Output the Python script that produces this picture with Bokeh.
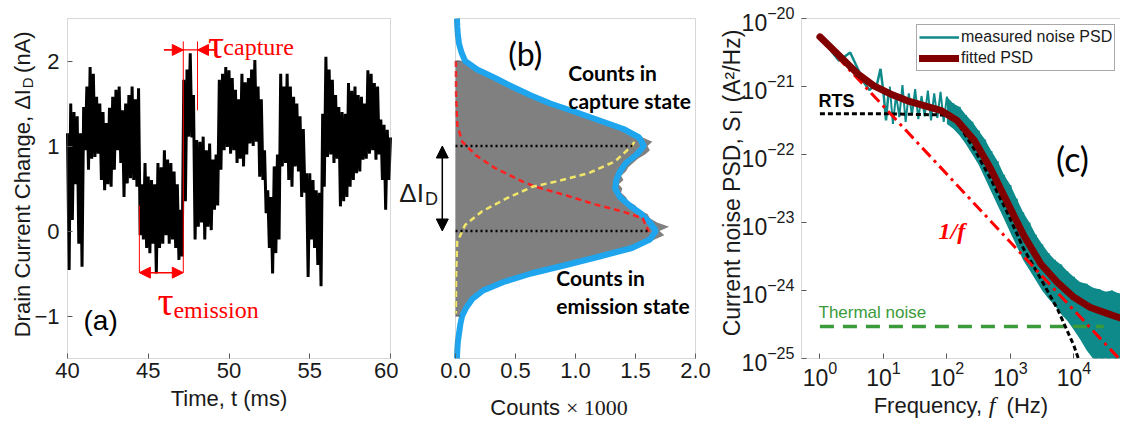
import numpy as np
from bokeh.plotting import figure
from bokeh.layouts import row
from bokeh.models import (Range1d, Label, Arrow, NormalHead, FixedTicker, Legend,
                          LegendItem, BoxAnnotation, NumeralTickFormatter)
from bokeh.embed import file_html
from bokeh.resources import INLINE

# ---------------- panel (a): RTS time trace ----------------
current_na = [
    1.15, -0.46, 1.50, 0.13, 1.40, 0.55, 1.35, -0.15, 1.15, -0.42,
    1.46, 0.95, 1.70, 0.72, 1.93, 0.85, 1.85, 0.87, 1.58, 0.91,
    1.50, 0.60, 1.40, 0.48, 1.27, 0.55, 1.45, 0.52, 1.58, 0.72,
    1.66, 0.95, 1.70, 0.80, 1.42, 0.40, 1.50, 0.56, 1.60, 0.62,
    1.70, 0.60, 1.55, 0.52, 1.68, -0.05, 0.55, -0.10, 0.80, -0.20,
    0.64, -0.26, 0.60, -0.15, 0.55, -0.50, 0.80, -0.20, 0.75, -0.15,
    0.95, -0.05, 0.84, -0.15, 0.80, -0.10, 0.70, -0.20, 0.55, -0.34,
    0.25, -0.30, 1.78, 0.35, 1.90, 1.11, 2.09, 1.10, 1.60, -0.10,
    1.07, 0.05, 1.05, 0.10, 1.11, -0.10, 0.95, 0.05, 1.03, 0.01,
    0.84, 0.25, 0.90, 0.30, 1.78, 0.72, 1.85, 0.95, 1.93, 0.99,
    1.89, 0.91, 1.80, 0.95, 1.66, 0.80, 1.55, 0.85, 1.85, 0.76,
    1.75, 0.90, 1.80, 1.03, 1.90, 1.00, 2.01, 1.05, 1.70, 0.64,
    1.55, 0.60, 0.95, 0.21, 0.48, -0.20, 0.40, -0.50, 0.76, -0.26,
    0.90, -0.10, 1.85, 0.76, 1.70, 0.80, 1.85, 0.60, 1.70, 0.52,
    1.58, 0.76, 1.50, 0.70, 1.35, 0.40, 1.20, 0.45, 0.68, -0.54,
    0.68, -0.10, 0.60, -0.20, 0.48, -0.40, 0.45, -0.65, 1.38, 0.52,
    2.05, 0.87, 1.90, 0.90, 1.78, 0.80, 1.60, 0.85, 1.46, 0.29,
    1.40, 0.35, 1.38, 0.40, 1.74, 0.52, 1.65, 0.60, 1.70, 0.68,
    1.60, 0.70, 1.58, 0.84, 1.50, 0.85, 1.89, 0.91, 1.85, 0.95,
    1.74, 0.84, 1.70, 0.90, 1.31, 0.60, 1.25, 0.25, 1.19, 0.60,
    1.10,
]
t_ms = [40.0 + 0.1 * i for i in range(len(current_na))]
a_xlim = (40, 60)
a_ylim = (-1.5, 2.5)
a_xticks = [40, 45, 50, 55, 60]
a_yticks = [-1, 0, 1, 2]
tau_capture_ms = [47.17, 48.05]
tau_emission_ms = [44.45, 47.17]

# ---------------- panel (b): histogram ----------------
b_xlim = (0, 2.0)
b_xticks = [0, 0.5, 1.0, 1.5, 2.0]
b_yticks = [-1, 2]
hist_di = [round(-1.0 + 0.05 * i, 2) for i in range(61)]
hist_counts_k = [
    0.05, 0.07, 0.09, 0.11, 0.14, 0.18, 0.23, 0.30, 0.40, 0.51,
    0.63, 0.77, 0.92, 1.06, 1.20, 1.34, 1.47, 1.58, 1.66, 1.74,
    1.70, 1.78, 1.68, 1.62, 1.60, 1.52, 1.50, 1.44, 1.42, 1.38,
    1.39, 1.36, 1.40, 1.38, 1.42, 1.44, 1.48, 1.52, 1.58, 1.62,
    1.60, 1.64, 1.56, 1.50, 1.40, 1.30, 1.20, 1.10, 1.00, 0.89,
    0.79, 0.70, 0.62, 0.54, 0.47, 0.40, 0.33, 0.25, 0.18, 0.12,
    0.08,
]
fit_di = [round(-1.5 + 0.1 * i, 1) for i in range(41)]
fit_counts_k = [
    0.012, 0.015, 0.02, 0.03, 0.04, 0.055, 0.09, 0.14, 0.23, 0.40,
    0.63, 0.92, 1.20, 1.47, 1.62, 1.67, 1.62, 1.55, 1.45, 1.37,
    1.33, 1.34, 1.37, 1.42, 1.51, 1.57, 1.53, 1.40, 1.20, 1.00,
    0.79, 0.62, 0.47, 0.33, 0.18, 0.08, 0.05, 0.03, 0.02, 0.015, 0.012,
]
emission_comp_counts = [0.003, 0.005, 0.014, 0.056, 0.17, 0.33, 0.56, 0.67, 0.92, 1.17, 1.39, 1.56, 1.61]
emission_comp_di = [2.00, 1.60, 1.25, 1.05, 0.89, 0.74, 0.58, 0.52, 0.42, 0.31, 0.23, 0.15, -0.01]
capture_comp_counts = [1.49, 1.47, 1.33, 1.11, 0.83, 0.64, 0.42, 0.22, 0.08, 0.014, 0.005, 0.003]
capture_comp_di = [1.05, 1.00, 0.82, 0.68, 0.58, 0.52, 0.38, 0.23, 0.07, -0.13, -0.50, -0.97]
state_levels = [1.0, 0.0]
state_peaks = [1.49, 1.61]

# ---------------- panel (c): noise PSD (log10 values) ----------------
c_logx_lim = (-0.29, 4.734)
c_logy_lim = (-25, -20)
c_xticks = [1, 10, 100, 1000, 10000]
c_yticks = [1e-25, 1e-24, 1e-23, 1e-22, 1e-21, 1e-20]
psd_lowf_hz = [1, 2, 3, 4, 5, 6, 7, 8, 9, 10, 11, 12]
psd_lowf_log = [-20.27, -20.62, -20.50, -20.75, -20.95, -21.05, -21.00, -20.95, -20.74, -21.08, -21.50, -21.10]
band_logf = [round(1.1 + 0.1 * i, 1) for i in range(38)]
psd_hi_log = [
    -21.00, -21.12, -20.98, -21.10, -21.04, -21.14, -21.06, -21.10, -21.08, -21.15,
    -21.25, -21.30, -21.42, -21.52, -21.65, -21.78, -21.95, -22.10, -22.30, -22.45,
    -22.65, -22.85, -23.00, -23.18, -23.32, -23.45, -23.55, -23.62, -23.72, -23.80,
    -23.88, -23.90, -23.96, -23.98, -24.02, -24.00, -24.04, -24.05,
]
psd_lo_log = [
    -21.55, -21.45, -21.52, -21.42, -21.48, -21.44, -21.50, -21.46, -21.52, -21.55,
    -21.62, -21.72, -21.85, -22.00, -22.15, -22.35, -22.55, -22.75, -22.95, -23.15,
    -23.35, -23.55, -23.70, -23.85, -24.00, -24.12, -24.22, -24.35, -24.45, -24.58,
    -24.72, -24.88, -25.00, -25.00, -25.00, -25.00, -25.00, -25.00,
]
fit_logf = [0.0, 0.33, 0.59, 0.85, 1.11, 1.38, 1.64, 1.90, 2.16, 2.43, 2.69, 2.95, 3.21, 3.48, 3.74, 4.00, 4.26, 4.53, 4.75]
fit_logs = [-20.27, -20.57, -20.81, -20.99, -21.11, -21.21, -21.28, -21.35, -21.50, -21.79, -22.21, -22.70, -23.19, -23.61, -23.88, -24.10, -24.25, -24.34, -24.41]
rts_logf = [0.0, 1.0, 2.0, 2.16, 2.43, 2.69, 2.95, 3.21, 3.48, 3.74, 4.00, 4.07]
rts_logs = [-21.40, -21.40, -21.42, -21.52, -21.92, -22.36, -22.85, -23.39, -23.83, -24.27, -24.81, -25.00]
flicker_logf = [0.0, 4.75]
flicker_logs = [-20.29, -25.04]
thermal_logf = [0.0, 4.47]
thermal_logs = [-24.53, -24.53]

# ---------------- layout (pixels) ----------------
H = 424
PAD_TOP, PAD_BOTTOM, BOX_H = 18, 66, 340
SANS = "Liberation Sans"
SERIF = "Liberation Serif"
CAL = "Lato"
FRAME = "#7f7f7f"
INK = "#1a1a1a"
red = "#ff0000"


def lin_range(lo, hi, pad_lo, box_px, pad_hi):
    s = (hi - lo) / box_px
    return Range1d(lo - pad_lo * s, hi + pad_hi * s)


def log_range(lo, hi, pad_lo, box_px, pad_hi):
    s = (hi - lo) / box_px
    return Range1d(10 ** (lo - pad_lo * s), 10 ** (hi + pad_hi * s))


def make_fig(width, xr, yr, **kw):
    p = figure(width=width, height=H, x_range=xr, y_range=yr, output_backend="svg",
               toolbar_location=None, min_border=0, min_border_left=0, min_border_right=0,
               min_border_top=0, min_border_bottom=0, **kw)
    p.grid.visible = False
    p.outline_line_color = None
    p.background_fill_color = "white"
    return p


def style_axis(ax, size="22px", standoff=4):
    ax.major_tick_in = 5
    ax.major_tick_out = 0
    ax.minor_tick_in = 0
    ax.minor_tick_out = 0
    ax.axis_line_color = None
    ax.major_tick_line_color = "#555555"
    ax.major_label_text_font = SANS
    ax.major_label_text_font_size = size
    ax.major_label_text_color = INK
    ax.major_label_standoff = standoff


def lab(p, x, y, text, size, font=SANS, color="black", style="normal",
        align="left", baseline="middle", angle=0):
    p.add_layout(Label(x=x, y=y, text=text, text_font=font, text_font_size=size,
                       text_color=color, text_font_style=style, text_align=align,
                       text_baseline=baseline, angle=angle, angle_units="deg"))


def box(p, left, right, bottom, top):
    p.add_layout(BoxAnnotation(left=left, right=right, bottom=bottom, top=top,
                               fill_alpha=0, line_color=FRAME, line_width=1))


# ---------------- figure (a) ----------------
pa = make_fig(398, lin_range(a_xlim[0], a_xlim[1], 67, 323, 8),
              lin_range(a_ylim[0], a_ylim[1], PAD_BOTTOM, BOX_H, PAD_TOP))
pa.line(t_ms, current_na, line_color="black", line_width=3)
pa.xaxis.fixed_location = a_ylim[0]
pa.yaxis.fixed_location = a_xlim[0]
style_axis(pa.xaxis[0], standoff=4)
style_axis(pa.yaxis[0], standoff=8)
pa.xaxis.ticker = FixedTicker(ticks=a_xticks)
pa.yaxis.ticker = FixedTicker(ticks=a_yticks)
box(pa, a_xlim[0], a_xlim[1], a_ylim[0], a_ylim[1])

pa.segment(x0=[tau_capture_ms[0], tau_capture_ms[1], tau_emission_ms[0]],
           y0=[2.23, 2.23, 0.30],
           x1=[tau_capture_ms[0], tau_capture_ms[1], tau_emission_ms[0]],
           y1=[-0.49, 1.42, -0.49], line_color=red, line_width=1)
pa.segment(x0=[tau_capture_ms[0] - 1.2], y0=[2.13], x1=[tau_capture_ms[1] + 1.1], y1=[2.13],
           line_color=red, line_width=1.2)
pa.add_layout(Arrow(x_start=tau_capture_ms[0] - 1.2, y_start=2.13, x_end=tau_capture_ms[0], y_end=2.13,
                    line_color=red, line_width=1.2,
                    end=NormalHead(size=11, fill_color=red, line_color=red)))
pa.add_layout(Arrow(x_start=tau_capture_ms[1] + 1.1, y_start=2.13, x_end=tau_capture_ms[1], y_end=2.13,
                    line_color=red, line_width=1.2,
                    end=NormalHead(size=11, fill_color=red, line_color=red)))
pa.add_layout(Arrow(x_start=tau_emission_ms[0], y_start=-0.49, x_end=tau_emission_ms[1], y_end=-0.49,
                    line_color=red, line_width=1.5,
                    start=NormalHead(size=11, fill_color=red, line_color=red),
                    end=NormalHead(size=11, fill_color=red, line_color=red)))
lab(pa, 48.7, 2.19, "τ", "40px", font=SERIF, color=red, baseline="alphabetic")
lab(pa, 49.65, 2.165, "capture", "24px", font=SERIF, color=red, baseline="alphabetic")
lab(pa, 45.57, -0.835, "τ", "40px", font=SERIF, color=red, baseline="alphabetic")
lab(pa, 46.56, -0.93, "emission", "24px", font=SERIF, color=red, baseline="alphabetic")
lab(pa, 40.99, -1.05, "(a)", "28px")
lab(pa, 50.0, -1.965, "Time, t (ms)", "22px", color=INK, align="center")
lab(pa, 37.21, 1.67, "Drain Current Change, ΔI", "22px", angle=90, color=INK, align="right")
lab(pa, 37.52, 1.68, "D", "15px", angle=90, color=INK)
lab(pa, 37.21, 1.86, "(nA)", "22px", angle=90, color=INK)

# ---------------- figure (b) ----------------
pb = make_fig(314, lin_range(b_xlim[0], b_xlim[1], 57, 240, 17),
              lin_range(a_ylim[0], a_ylim[1], PAD_BOTTOM, BOX_H, PAD_TOP))
pb.harea(y=hist_di, x1=0, x2=hist_counts_k, fill_color="#808080")
pb.line(fit_counts_k, fit_di, line_color="#1ea5ee", line_width=6)
pb.line(emission_comp_counts, emission_comp_di, line_color="#ff2020", line_width=2.5, line_dash="6 4")
pb.line(capture_comp_counts, capture_comp_di, line_color="#f2e66a", line_width=2.5, line_dash="6 4")
pb.segment(x0=[0, 0], y0=state_levels, x1=state_peaks, y1=state_levels,
           line_color="black", line_width=2.5, line_dash="2 3")
pb.xaxis.fixed_location = a_ylim[0]
style_axis(pb.xaxis[0], standoff=4)
pb.xaxis.ticker = FixedTicker(ticks=b_xticks)
pb.xaxis.formatter = NumeralTickFormatter(format="0.0")
pb.yaxis.visible = False
tick_len = 5 * (b_xlim[1] - b_xlim[0]) / 240
pb.segment(x0=[0] * len(b_yticks), y0=b_yticks, x1=[tick_len] * len(b_yticks), y1=b_yticks,
           line_color="#555555", line_width=1)
box(pb, b_xlim[0], b_xlim[1], a_ylim[0], a_ylim[1])
pb.add_layout(Arrow(x_start=-0.11, y_start=state_levels[1], x_end=-0.11, y_end=state_levels[0],
                    line_color="black", line_width=1.5,
                    start=NormalHead(size=12, fill_color="black", line_color="black"),
                    end=NormalHead(size=12, fill_color="black", line_color="black")))
lab(pb, -0.468, 0.447, "ΔI", "26px", color=INK)
lab(pb, -0.255, 0.38, "D", "18px", color=INK)
lab(pb, 0.44, 2.09, "(b)", "32px", font=CAL)
lab(pb, 0.94, 1.87, "Counts in", "21px", font=CAL, style="bold")
lab(pb, 0.94, 1.54, "capture state", "21px", font=CAL, style="bold")
lab(pb, 0.84, -0.55, "Counts in", "21px", font=CAL, style="bold")
lab(pb, 0.84, -0.88, "emission state", "21px", font=CAL, style="bold")
lab(pb, 0.29, -2.08, "Counts", "22px", color=INK)
lab(pb, 0.92, -2.08, "× 1000", "22px", font=SERIF, color=INK)

# ---------------- figure (c) ----------------
pc = make_fig(408, log_range(c_logx_lim[0], c_logx_lim[1], 89, 319, 0),
              log_range(c_logy_lim[0], c_logy_lim[1], PAD_BOTTOM, BOX_H, PAD_TOP),
              x_axis_type="log", y_axis_type="log")
teal = "#0f8a8a"
band_start = 9
pc.varea(x=[10 ** v for v in band_logf[band_start:]], y1=[10 ** v for v in psd_lo_log[band_start:]],
         y2=[10 ** v for v in psd_hi_log[band_start:]], fill_color=teal)
zig_f, zig_s = [], []
for lf, hi, lo in zip(band_logf, psd_hi_log, psd_lo_log):
    zig_f += [10 ** lf, 10 ** (lf + 0.05)]
    zig_s += [10 ** hi, 10 ** lo]
pc.line(zig_f, zig_s, line_color=teal, line_width=2)
r_meas = pc.line(psd_lowf_hz, [10 ** v for v in psd_lowf_log], line_color=teal, line_width=2.5)
pc.line([10 ** v for v in thermal_logf], [10 ** v for v in thermal_logs], line_color="#3a9a3a",
        line_width=3.5, line_dash="14 9")
pc.line([10 ** v for v in rts_logf], [10 ** v for v in rts_logs], line_color="black",
        line_width=3, line_dash="5 3")
pc.line([10 ** v for v in flicker_logf], [10 ** v for v in flicker_logs], line_color=red,
        line_width=3, line_dash="12 5 3 5")
r_fit = pc.line([10 ** v for v in fit_logf], [10 ** v for v in fit_logs], line_color="#800000",
                line_width=7, line_cap="round")
pc.xaxis.fixed_location = 10 ** c_logy_lim[0]
pc.yaxis.fixed_location = 10 ** c_logx_lim[0]
style_axis(pc.xaxis[0], size="23px", standoff=2)
style_axis(pc.yaxis[0], size="23px", standoff=7)
pc.xaxis.ticker = FixedTicker(ticks=c_xticks)
pc.yaxis.ticker = FixedTicker(ticks=c_yticks)
box(pc, 10 ** c_logx_lim[0], 10 ** 6, 10 ** c_logy_lim[0], 10 ** c_logy_lim[1])
leg = Legend(items=[LegendItem(label="measured noise PSD", renderers=[r_meas]),
                    LegendItem(label="fitted PSD", renderers=[r_fit])],
             location=(204, 353), label_text_font=SANS, label_text_font_size="16px",
             label_text_color=INK, border_line_color="#555555", border_line_width=1.5,
             padding=2, spacing=1, label_standoff=2, glyph_width=40, glyph_height=20,
             label_height=20, margin=0)
pc.add_layout(leg)
lab(pc, 0.95, 10 ** -21.21, "RTS", "18px", style="bold")
lab(pc, 0.95, 10 ** -24.32, "Thermal noise", "17px", color="#3a9a3a")
lab(pc, 74, 10 ** -23.12, "1/f", "24px", font=SERIF, color=red, style="bold italic")
lab(pc, 10 ** 3.72, 10 ** -22.06, "(c)", "34px", font=CAL)
lab(pc, 10 ** 0.846, 10 ** -25.69, "Frequency,", "22px", color=INK)
lab(pc, 10 ** 2.66, 10 ** -25.69, "f", "24px", font=SERIF, style="italic", color=INK)
lab(pc, 10 ** 2.94, 10 ** -25.69, "(Hz)", "22px", color=INK)
lab(pc, 10 ** -1.39, 10 ** (-20 - (116 - 18) / 68), "Current noise PSD, S", "23px",
    angle=90, color=INK, align="right")
lab(pc, 10 ** -1.31, 10 ** (-20 - (114 - 18) / 68), "I", "16px", angle=90, color=INK)
lab(pc, 10 ** -1.39, 10 ** (-20 - (102 - 18) / 68), "(A²/Hz)", "23px", angle=90, color=INK)

layout = row(pa, pb, pc)
open("out.html", "w").write(file_html(layout, INLINE))
